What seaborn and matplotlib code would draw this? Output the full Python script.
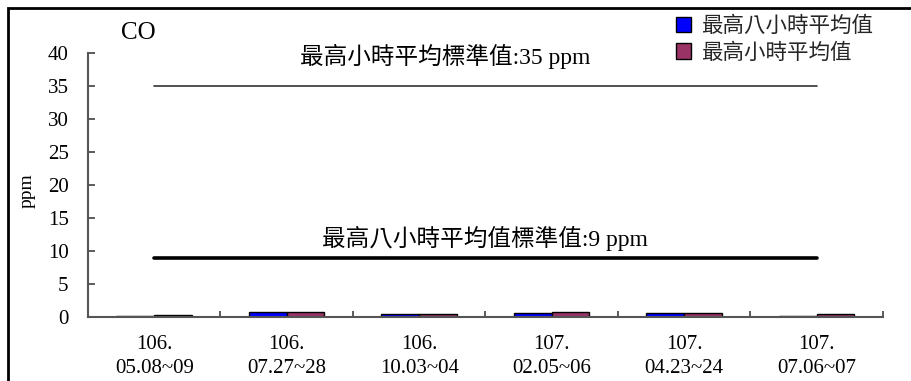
import matplotlib
matplotlib.use("Agg")
import matplotlib.pyplot as plt
from matplotlib.patches import Patch, Rectangle
import seaborn as sns
import pandas as pd

# Sampling periods (ROC year / dates)
periods = ["106.\n05.08~09", "106.\n07.27~28", "106.\n10.03~04",
           "107.\n02.05~06", "107.\n04.23~24", "107.\n07.06~07"]
series_names = ["最高八小時平均值", "最高小時平均值"]
max_8hr_avg = [0.1, 0.8, 0.5, 0.6, 0.6, 0.2]
max_1hr_avg = [0.3, 0.8, 0.5, 0.8, 0.6, 0.4]
colors = ["#0000FF", "#993366"]

std_1hr = 35
std_8hr = 9
std_1hr_label = "最高小時平均標準值:35 ppm"
std_8hr_label = "最高八小時平均值標準值:9 ppm"
y_ticks = [0, 5, 10, 15, 20, 25, 30, 35, 40]

df = pd.DataFrame({
    "period": periods * 2,
    "value": max_8hr_avg + max_1hr_avg,
    "series": [series_names[0]] * len(periods) + [series_names[1]] * len(periods),
})

sns.set_theme(style="white")
serif = ["Liberation Serif", "Noto Sans CJK TC", "DejaVu Sans"]
cjk = ["Noto Sans CJK TC", "DejaVu Sans"]
plt.rcParams["font.family"] = serif

fig = plt.figure(figsize=(9.12, 3.81), dpi=100)
ax = fig.add_axes([0.0965, 0.168, 0.8715, 0.693])

sns.barplot(data=df, x="period", y="value", hue="series", palette=colors,
            width=0.57, edgecolor="black", linewidth=1, saturation=1,
            legend=False, ax=ax)

# Standard lines
ax.plot([0, len(periods) - 1], [std_1hr, std_1hr], color="#333333", lw=1.2)
ax.plot([0, len(periods) - 1], [std_8hr, std_8hr], color="black", lw=2.6)
ax.text(2.2, 39.4, std_1hr_label, ha="center", va="center",
        fontsize=17, family=serif, color="black")
ax.text(2.5, 11.9, std_8hr_label, ha="center", va="center",
        fontsize=17, family=serif, color="black")

ax.set_xlim(-0.5, len(periods) - 0.5)
ax.set_ylim(0, 40)
ax.set_yticks(y_ticks)
ax.set_yticklabels([str(v) for v in y_ticks], fontsize=15, color="black")

# Category boundary ticks with labels centred between them
ax.set_xticks([i - 0.5 for i in range(len(periods) + 1)])
ax.set_xticklabels([])
ax.set_xticks(range(len(periods)), minor=True)
ax.set_xticklabels(periods, minor=True, fontsize=15, color="black",
                   linespacing=1.35)
ax.tick_params(axis="x", which="major", direction="in", length=4,
               width=1.2, color="#404040", bottom=True)
ax.tick_params(axis="x", which="minor", length=0, pad=13)
ax.tick_params(axis="y", which="major", direction="in", length=5, width=1.2,
               color="#404040", left=True, pad=14)

ax.set_xlabel("")
ax.set_ylabel("ppm", fontsize=14, labelpad=0, color="black")
ax.yaxis.set_label_coords(-0.066, 0.48)

for side in ["top", "right"]:
    ax.spines[side].set_visible(False)
for side in ["left", "bottom"]:
    ax.spines[side].set_color("#555555")
    ax.spines[side].set_linewidth(1.5)

fig.text(0.152, 0.913, "CO", ha="center", va="center", fontsize=18,
         family=serif, color="black")

handles = [Patch(facecolor=c, edgecolor="black", linewidth=1) for c in colors]
fig.legend(handles, series_names, loc="upper left",
           bbox_to_anchor=(0.741, 0.96), frameon=False,
           prop={"family": cjk, "size": 15.5},
           handlelength=0.7, handleheight=0.7, handletextpad=0.45,
           labelspacing=0.2, borderaxespad=0.0, borderpad=0.0)

# Outer frame
fig.add_artist(Rectangle((0.0088, -0.1), 1.2, 1.079, transform=fig.transFigure,
                         fill=False, edgecolor="black", linewidth=2))

fig.savefig("out.png", dpi=100)
